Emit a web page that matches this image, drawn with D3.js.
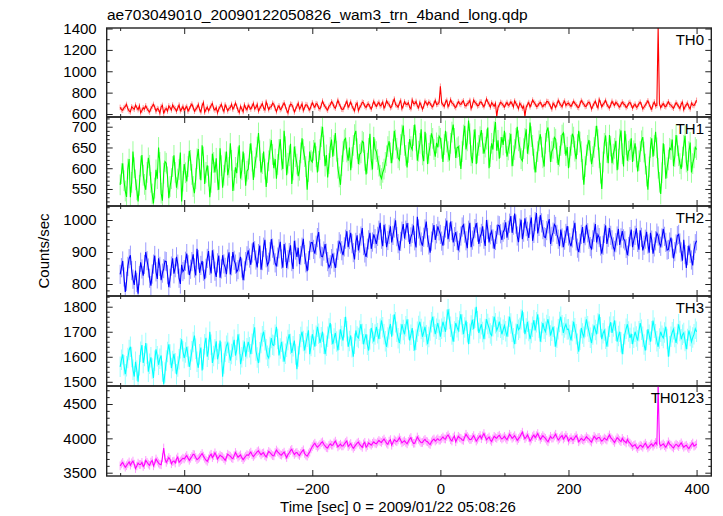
<!DOCTYPE html>
<html><head><meta charset="utf-8">
<script src="https://cdn.jsdelivr.net/npm/d3@7"></script>
<style>body{margin:0;background:#fff} svg{display:block} text{font-family:"Liberation Sans",Arial,Helvetica,sans-serif}</style>
</head><body><svg id="c" width="723" height="516"></svg>
<script>
const title = "ae703049010_20090122050826_wam3_trn_4band_long.qdp";
const xLabel = "Time [sec] 0 = 2009/01/22 05:08:26";
const yLabel = "Counts/sec";
const bandNames = ["TH0", "TH1", "TH2", "TH3", "TH0123"];
const bandColors = ["#ff0000", "#00ff00", "#0000ff", "#00ffff", "#ff00ff"];
const timeStart = -500, timeStep = 2;

const th0 = [
662,641,635,658,671,690,648,629,620,667,655,644,683,660,640,676,612,633,658,646,677,652,631,618,649,672,690,664,625,651,644,608,668,681,603,639,652,627,675,659,638,684,661,649,627,656,684,630,645,670,
633,655,670,627,648,676,692,661,626,644,659,688,641,620,680,706,617,642,664,631,652,679,698,650,637,660,611,646,668,689,650,624,685,662,629,653,660,691,644,668,702,673,635,614,671,648,622,686,657,640,
681,663,646,672,699,648,662,690,628,652,675,697,655,638,712,679,640,666,668,701,690,654,622,660,677,641,651,683,703,670,636,609,664,692,688,657,619,646,672,700,647,665,695,634,660,688,683,652,638,674,
706,680,662,697,690,656,648,681,721,690,669,650,636,672,684,714,700,667,655,690,728,694,671,645,643,668,693,719,664,685,712,676,650,631,687,702,632,660,679,711,705,674,661,689,694,669,646,681,718,690,
672,694,709,676,686,711,655,680,724,700,691,659,668,712,740,688,681,663,702,725,650,677,715,693,688,706,663,650,731,699,696,718,674,657,708,681,645,672,719,703,684,712,701,675,666,698,727,689,693,710,
860,705,688,671,712,728,670,694,734,703,695,672,660,689,716,697,689,711,723,680,675,699,704,727,652,681,730,708,697,676,681,713,711,685,668,702,740,715,692,664,706,690,673,698,578,661,687,709,700,682,
664,690,708,681,690,713,695,667,722,699,676,650,701,684,655,672,582,663,689,707,667,693,730,711,694,670,675,698,709,686,668,690,686,718,715,693,671,647,700,685,661,690,727,702,684,668,706,721,679,697,
702,686,671,695,718,700,685,666,660,694,726,708,693,670,675,703,711,689,647,672,700,719,682,659,735,706,668,690,705,727,690,669,656,684,719,697,681,710,698,676,664,688,712,695,687,661,673,700,709,684,
655,678,692,663,670,697,711,686,648,665,684,703,723,690,662,645,690,712,675,681,1420,700,660,681,697,674,668,693,715,690,683,666,654,679,706,688,672,651,695,710,641,667,688,701,666,648,702,685,679,700,728];

const th1 = [
560,587,612,570,545,531,598,622,530,566,640,601,572,548,520,559,605,632,583,561,548,590,625,607,566,538,515,552,596,575,650,614,540,522,588,616,612,579,528,556,575,604,631,590,553,574,597,638,520,569,
610,589,568,604,642,619,585,556,540,575,623,646,598,571,655,627,562,590,607,581,530,566,635,614,590,624,572,548,648,606,553,583,615,640,583,602,660,619,545,571,602,588,627,655,575,596,640,611,558,593,
598,634,660,617,572,603,625,651,685,642,590,611,640,598,555,589,618,646,668,633,600,622,575,609,645,670,620,598,690,652,583,612,630,659,562,596,652,628,610,581,595,637,672,645,628,604,548,592,640,619,
615,643,662,628,590,617,645,676,700,654,605,632,578,611,650,669,628,655,685,641,600,579,560,606,640,668,672,639,618,650,595,626,655,681,690,647,610,633,637,665,662,619,585,612,648,683,620,597,675,646,
640,621,605,583,575,590,598,614,630,652,665,637,612,646,690,668,648,625,620,657,680,703,655,631,602,638,670,652,645,679,705,666,618,641,660,694,632,617,688,659,610,636,655,684,672,645,628,661,650,677,
672,648,615,657,690,663,640,619,660,687,705,672,625,649,652,631,598,640,680,702,645,666,715,683,630,612,668,694,610,637,655,676,692,660,635,651,670,698,600,628,660,645,688,711,642,667,623,650,675,656,
690,661,628,644,660,683,605,630,645,672,700,666,650,623,618,647,672,694,635,658,710,676,655,622,590,615,640,666,682,651,625,604,660,689,698,664,615,640,648,674,670,637,608,629,655,680,685,659,630,651,
600,627,655,683,675,641,622,657,690,663,640,597,560,604,632,655,668,641,610,628,650,677,702,669,625,588,550,615,660,679,638,612,680,653,612,634,648,666,595,622,670,691,635,604,690,657,618,641,645,672,
615,642,660,627,592,618,640,666,675,639,610,581,548,603,650,672,628,655,688,649,600,566,538,589,660,633,575,601,620,648,645,669,605,628,680,654,630,611,598,627,655,678,615,594,640,662,590,611,625,650,645];

const th2 = [
830,851,872,822,775,808,855,879,890,842,815,797,842,805,770,826,868,847,826,861,900,873,850,818,795,831,862,889,838,816,880,855,812,834,848,872,870,829,790,818,856,880,832,851,885,862,818,800,860,839,
845,871,895,860,828,846,870,893,850,827,910,876,835,858,872,840,815,849,880,903,858,833,905,878,840,822,866,889,820,847,890,863,852,831,878,899,830,857,900,874,862,838,845,869,885,850,812,841,870,888,
905,881,860,897,930,904,875,852,895,920,845,873,915,938,882,859,868,901,940,912,890,866,855,884,910,932,878,851,925,899,850,876,898,921,870,847,935,906,885,913,862,889,915,941,892,866,840,873,905,929,
930,908,895,921,945,962,910,887,885,903,925,896,870,852,860,879,895,868,850,881,905,932,925,904,890,916,940,965,915,939,960,926,898,877,930,952,905,928,950,975,920,897,885,912,938,960,910,931,955,942,
925,949,968,991,940,918,985,958,915,936,955,980,930,952,975,999,948,926,905,933,965,987,942,968,990,961,925,947,958,983,935,914,1010,972,950,931,920,946,972,995,945,922,898,934,960,984,938,957,980,966,
955,934,920,951,975,998,940,962,995,967,930,948,962,936,905,929,950,978,985,959,935,912,968,991,915,937,948,973,990,962,925,947,958,980,940,919,1000,971,930,954,965,941,910,936,955,984,982,957,938,962,
970,993,945,968,990,1012,960,984,1020,987,950,931,975,1001,940,962,1005,979,965,944,985,1008,935,958,995,1022,958,980,1015,991,970,948,945,967,988,1003,925,949,962,986,980,955,940,918,970,944,915,937,958,981,
950,929,918,944,968,991,935,912,900,927,955,978,928,951,985,960,940,917,910,938,962,987,930,954,945,919,895,921,958,983,925,946,975,952,938,916,905,929,950,972,922,944,965,941,935,911,890,917,948,970,
915,936,952,974,930,907,968,946,905,921,940,963,925,898,960,937,895,916,935,959,950,927,918,944,972,949,930,906,908,931,945,912,880,901,925,951,955,928,900,873,938,892,850,889,920,896,875,858,905,926,935];

const th3 = [
1560,1588,1610,1566,1530,1562,1595,1627,1640,1599,1548,1521,1580,1545,1500,1566,1620,1647,1575,1603,1655,1612,1540,1572,1598,1553,1515,1584,1630,1602,1568,1592,1605,1541,1490,1537,1585,1619,1650,1609,1555,1583,1612,1574,1530,1561,1590,1634,1670,1622,
1595,1617,1640,1601,1560,1588,1622,1659,1685,1632,1580,1556,1610,1637,1545,1590,1650,1676,1600,1628,1700,1648,1575,1603,1630,1662,1590,1612,1665,1619,1520,1573,1620,1644,1655,1616,1585,1611,1640,1668,1605,1627,1690,1651,1570,1598,1625,1661,1600,1634,
1660,1638,1610,1652,1690,1718,1625,1597,1575,1618,1655,1682,1700,1666,1630,1604,1595,1639,1675,1648,1645,1688,1720,1671,1605,1633,1660,1621,1580,1612,1640,1667,1690,1651,1615,1642,1665,1609,1550,1601,1650,1679,1700,1663,1625,1654,1680,1706,1610,1643,
1690,1667,1640,1684,1720,1692,1655,1678,1700,1652,1610,1644,1680,1713,1735,1689,1650,1673,1695,1661,1625,1668,1710,1683,1665,1718,1760,1702,1640,1663,1685,1638,1600,1652,1705,1681,1675,1704,1730,1691,1650,1672,1690,1648,1625,1670,1715,1694,1660,1689,
1720,1694,1670,1712,1745,1718,1690,1662,1640,1677,1710,1731,1680,1726,1770,1738,1700,1674,1655,1691,1730,1707,1690,1722,1750,1709,1665,1688,1715,1664,1625,1668,1700,1723,1740,1711,1680,1699,1720,1686,1650,1679,1705,1738,1760,1721,1690,1712,1735,1708,
1680,1712,1740,1719,1700,1748,1790,1751,1720,1689,1660,1701,1735,1718,1705,1741,1770,1729,1690,1717,1745,1698,1650,1692,1725,1748,1710,1756,1800,1742,1695,1713,1730,1699,1670,1711,1750,1731,1715,1693,1685,1722,1760,1734,1705,1719,1740,1716,1690,1708,
1725,1702,1680,1721,1760,1733,1700,1674,1650,1692,1730,1708,1715,1749,1785,1737,1690,1713,1740,1703,1670,1695,1720,1746,1705,1738,1770,1716,1660,1699,1735,1712,1700,1727,1750,1721,1685,1704,1720,1681,1640,1676,1710,1739,1760,1726,1695,1717,1730,1709,
1710,1687,1665,1703,1740,1714,1690,1652,1620,1668,1715,1693,1680,1719,1750,1722,1700,1676,1655,1689,1725,1707,1690,1733,1770,1718,1670,1694,1705,1672,1640,1681,1720,1738,1695,1721,1745,1704,1660,1683,1700,1658,1610,1651,1690,1712,1730,1701,1675,1692,
1650,1676,1700,1681,1665,1702,1735,1708,1680,1649,1625,1667,1710,1688,1660,1702,1745,1716,1690,1662,1640,1673,1700,1684,1675,1697,1720,1671,1600,1642,1680,1698,1710,1679,1655,1691,1730,1703,1670,1688,1695,1663,1630,1671,1705,1683,1660,1677,1690,1712,1700];

const th0123 = [
3600,3628,3650,3612,3580,3603,3630,3657,3610,3644,3670,3625,3560,3598,3640,3619,3620,3651,3590,3617,3680,3652,3625,3607,3655,3679,3600,3638,3700,3668,3640,3622,3615,3720,3860,3705,3650,3684,3720,3693,3630,3662,3670,3641,3700,3728,3650,3671,3690,3712,
3700,3727,3750,3712,3680,3709,3735,3768,3760,3722,3690,3706,3725,3754,3780,3741,3710,3683,3665,3702,3745,3769,3720,3748,3790,3751,3700,3726,3755,3738,3730,3705,3680,3724,3770,3752,3740,3716,3705,3749,3795,3760,3725,3743,3760,3719,3690,3716,3740,3763,
3750,3777,3800,3762,3735,3758,3780,3806,3820,3788,3760,3782,3790,3751,3730,3772,3810,3791,3770,3749,3745,3793,3830,3804,3785,3762,3755,3781,3800,3757,3720,3764,3790,3821,3840,3796,3765,3787,3795,3768,3750,3784,3810,3833,3780,3756,3740,3775,3800,3846,
3880,3907,3930,3893,3870,3889,3910,3936,3950,3914,3890,3866,3860,3897,3920,3901,3900,3934,3960,3921,3875,3898,3915,3889,3890,3918,3940,3962,3880,3903,3925,3884,3855,3879,3905,3931,3945,3911,3890,3868,3920,3943,3870,3896,3935,3918,3900,3927,3950,3929,
3920,3946,3970,3951,3940,3968,3990,3958,3930,3912,3960,3982,3900,3938,3980,3963,3950,3977,4010,3974,3935,3952,3965,3941,3920,3957,3990,4012,3955,3928,3930,3974,4020,3986,3960,3937,3940,3966,3985,3958,3950,3927,3910,3949,3975,3991,3960,3978,3995,3972,
3975,3998,4020,3993,3990,4027,4050,4016,3980,3961,4010,4034,3950,3989,4030,4008,4000,3977,3970,4018,4060,4029,4005,3982,3985,4013,4040,4002,3960,3987,4015,4041,3995,4036,4070,4021,3980,3999,4020,3976,3955,3993,4030,4011,4000,4028,4045,4012,3990,4007,
4030,4003,3980,4021,4060,4033,4000,4018,4040,4006,3970,3996,4020,4057,4090,4037,3995,4019,4050,4012,3960,3990,4025,4048,4010,4039,4070,4026,3985,4011,4040,4017,4000,3972,3950,3991,4030,4002,4005,4034,4060,4014,3975,3998,4020,4041,3990,4013,4045,4016,
3960,3987,4010,3978,3980,4012,4040,4003,3950,3974,4000,3981,3970,3996,4025,4002,3990,3962,3945,3988,4030,4006,3985,4010,4015,3983,3960,3979,4005,3989,3975,4018,4050,4011,3990,3964,3940,3977,4010,3993,3970,3952,4000,3968,3955,3933,3985,3947,3930,3906,
3880,3897,3910,3872,3850,3878,3900,3889,3870,3904,3930,3896,3860,3882,3905,3921,3885,3914,3940,3912,4760,3924,3890,3906,3920,3894,3870,3908,3950,3917,3900,3876,3860,3893,3915,3898,3880,3909,3935,3901,3870,3889,3900,3871,3850,3883,3910,3932,3885,3899,3920];

const seriesValues = [th0, th1, th2, th3, th0123];
const errors = [26, 25, 30, 41, 63];

const xDomain = [-521, 423];
const xMajorTicks = [-400, -200, 0, 200, 400];
const xMinorTicks = [-500, -300, -100, 100, 300];
const yDomains = [[572, 1405], [509, 723.4], [762.5, 1043.75], [1483.2, 1842.8], [3452, 4762]];
const yMajorTicks = [[600, 800, 1000, 1200, 1400], [550, 600, 650, 700], [800, 900, 1000], [1500, 1600, 1700, 1800], [3500, 4000, 4500]];
const yMinorSteps = [100, 10, 20, 20, 100];

// layout
const left = 106.7, right = 711.3;
const bounds = [28, 117, 206, 296, 386, 476];
const svg = d3.select("#c");
const x = d3.scaleLinear().domain(xDomain).range([left, right]);
const fontSize = 15;
const fontFam = '"Liberation Sans",Arial,sans-serif';

svg.append("text").attr("x", 107).attr("y", 20).attr("font-size", 15.5).text(title);

seriesValues.forEach((vals, i) => {
  const top = bounds[i], bot = bounds[i + 1];
  const y = d3.scaleLinear().domain(yDomains[i]).range([bot, top]);
  const g = svg.append("g");
  const cid = "clip" + i;
  svg.append("clipPath").attr("id", cid).append("rect")
    .attr("x", left).attr("y", top).attr("width", right - left).attr("height", bot - top);
  const data = vals.map((v, k) => ({t: timeStart + k * timeStep, v}));
  const plot = g.append("g").attr("clip-path", `url(#${cid})`);
  plot.selectAll("line.err").data(data).enter().append("line")
    .attr("x1", d => x(d.t)).attr("x2", d => x(d.t))
    .attr("y1", d => y(d.v - errors[i])).attr("y2", d => y(d.v + errors[i]))
    .attr("stroke", bandColors[i]).attr("stroke-opacity", 0.4).attr("stroke-width", 1);
  plot.append("path").datum(data)
    .attr("d", d3.line().x(d => x(d.t)).y(d => y(d.v)))
    .attr("fill", "none").attr("stroke", bandColors[i]).attr("stroke-width", 1.1);

  const [d0, d1] = yDomains[i];
  const minor = d3.range(Math.ceil(d0 / yMinorSteps[i]) * yMinorSteps[i], d1, yMinorSteps[i])
    .filter(v => !yMajorTicks[i].includes(v));
  const styleAxis = a => { a.select(".domain").remove(); a.selectAll("line").attr("stroke", "#222"); };
  const styleText = a => a.selectAll("text").attr("font-size", fontSize).attr("fill", "#000").style("font-family", fontFam);
  g.append("g").attr("transform", `translate(${left},0)`)
    .call(d3.axisLeft(y).tickValues(minor).tickSize(-3).tickFormat("")).call(styleAxis);
  g.append("g").attr("transform", `translate(${right},0)`)
    .call(d3.axisRight(y).tickValues(minor).tickSize(-3).tickFormat("")).call(styleAxis);
  g.append("g").attr("transform", `translate(${left},0)`)
    .call(d3.axisLeft(y).tickValues(yMajorTicks[i]).tickSize(-6).tickPadding(10).tickFormat(d3.format("d")))
    .call(styleAxis).call(styleText);
  g.append("g").attr("transform", `translate(${right},0)`)
    .call(d3.axisRight(y).tickValues(yMajorTicks[i]).tickSize(-6).tickFormat("")).call(styleAxis);

  g.append("g").attr("transform", `translate(0,${top})`)
    .call(d3.axisTop(x).tickValues(xMajorTicks).tickSize(-6).tickFormat("")).call(styleAxis);
  g.append("g").attr("transform", `translate(0,${top})`)
    .call(d3.axisTop(x).tickValues(xMinorTicks).tickSize(-3).tickFormat("")).call(styleAxis);
  const bAxis = d3.axisBottom(x).tickValues(xMajorTicks).tickSize(-6);
  if (i === 4) bAxis.tickPadding(7).tickFormat(d3.format("d")); else bAxis.tickFormat("");
  g.append("g").attr("transform", `translate(0,${bot})`).call(bAxis).call(styleAxis).call(styleText);
  g.append("g").attr("transform", `translate(0,${bot})`)
    .call(d3.axisBottom(x).tickValues(xMinorTicks).tickSize(-3).tickFormat("")).call(styleAxis);

  g.append("rect").attr("x", left).attr("y", top).attr("width", right - left).attr("height", bot - top)
    .attr("fill", "none").attr("stroke", "#222").attr("stroke-width", 1.4);

  g.append("text").attr("x", 704).attr("y", top + 17).attr("text-anchor", "end")
    .attr("font-size", fontSize).text(bandNames[i]);
});

svg.append("text").attr("transform", "translate(49,251) rotate(-90)").attr("text-anchor", "middle")
  .attr("font-size", fontSize).text(yLabel);
svg.append("text").attr("x", 398).attr("y", 512).attr("text-anchor", "middle")
  .attr("font-size", fontSize).text(xLabel);
</script></body></html>
